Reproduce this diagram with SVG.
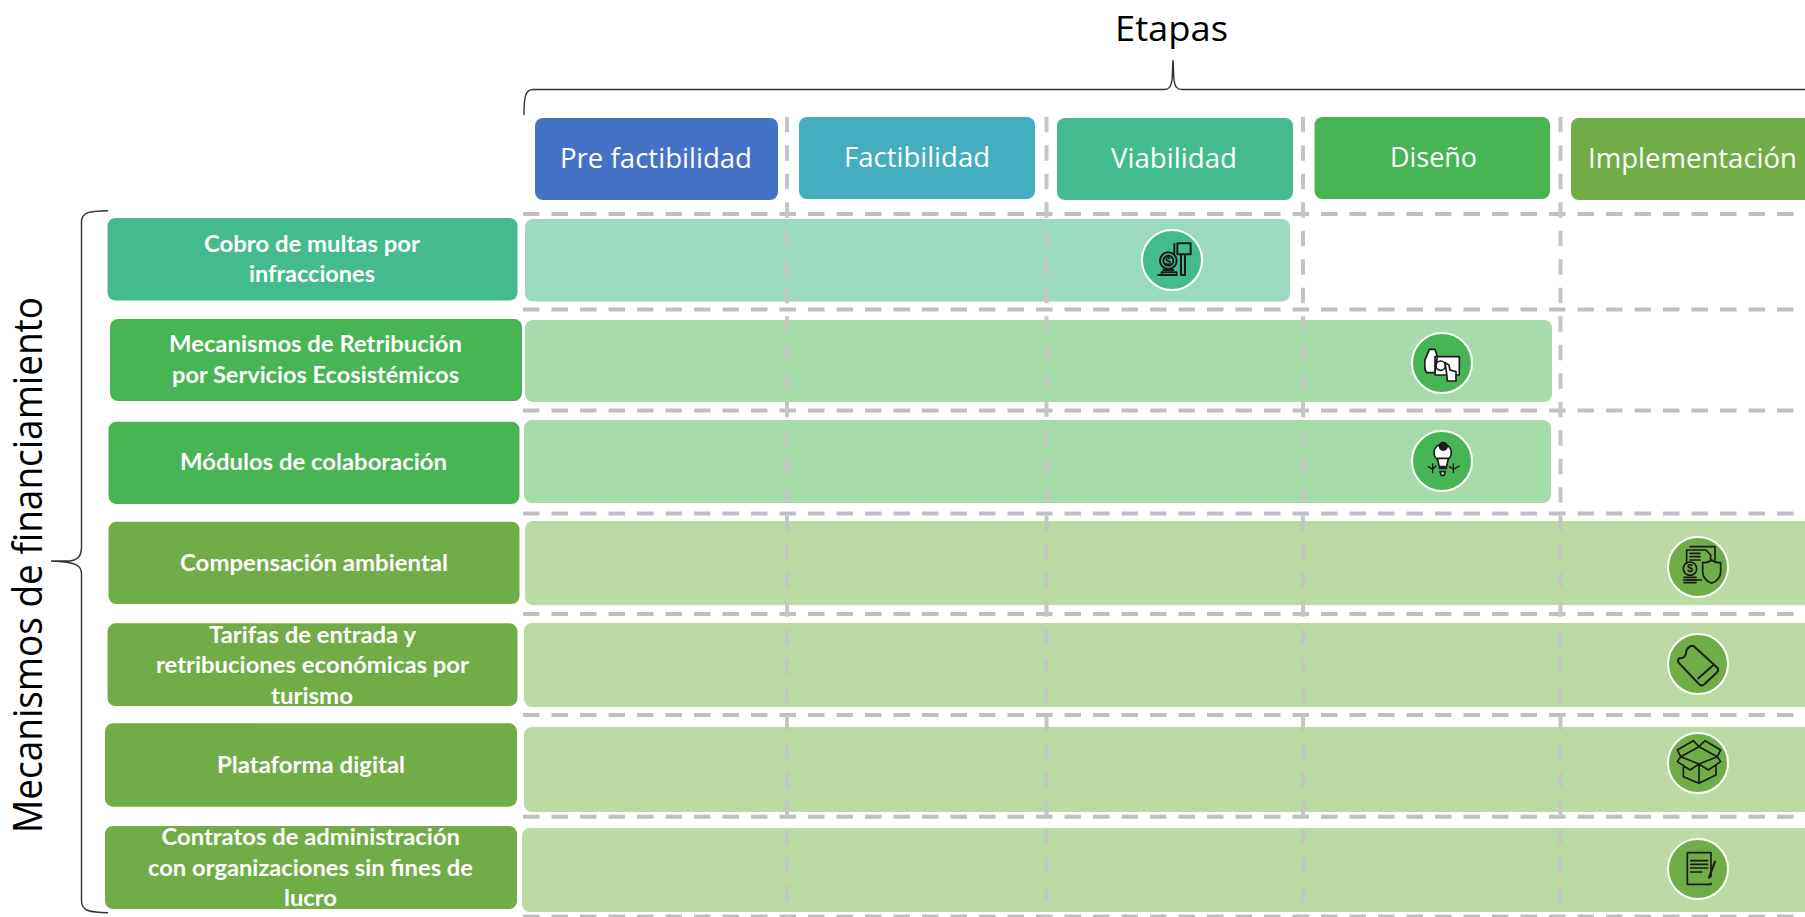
<svg xmlns="http://www.w3.org/2000/svg" width="1805" height="917" viewBox="0 0 1805 917">
<style>
.title{font-family:"Open Sans","DejaVu Sans",sans-serif;fill:#000}
.head{font-family:"Open Sans","Noto Sans",sans-serif;font-size:28px;fill:#fff}
.lab{font-family:Lato,"Liberation Sans",sans-serif;font-weight:700;font-size:22px;fill:#fff}
.hd{stroke:#BFBFBF;stroke-width:4;stroke-dasharray:16.5 12;fill:none}
.vd{stroke:#C3C6C3;stroke-width:4;stroke-dasharray:15.5 13;fill:none}
.brace{stroke:#333;stroke-width:1.4;fill:none}
.ic{fill:none;stroke:#1a1a1a;stroke-width:6;stroke-linecap:round;stroke-linejoin:round}
.icw{fill:#fff;stroke:#1a1a1a;stroke-width:5;stroke-linejoin:round;stroke-linecap:round}
.ring{stroke:#fff;stroke-width:2}
.tl{fill:#44BB8E}.gr{fill:#47B553}.ol{fill:#70AD47}
.btl{fill:#9BDAC0}.bgr{fill:#A5DCA9}.bol{fill:#BCDAA3}
.sym{font-family:"Liberation Sans",sans-serif;font-weight:700;font-size:11px;fill:#1a1a1a;text-anchor:middle}
</style>
<rect width="1805" height="917" fill="#fff"/>

<g id="bands">
<rect class="btl" x="525" y="219" width="765" height="82.5" rx="8"/>
<rect class="bgr" x="525" y="320" width="1027" height="82" rx="8"/>
<rect class="bgr" x="524" y="420" width="1027" height="83" rx="8"/>
<rect class="bol" x="525" y="521" width="1290" height="84" rx="8"/>
<rect class="bol" x="524" y="623" width="1291" height="84" rx="8"/>
<rect class="bol" x="524" y="727" width="1291" height="85" rx="8"/>
<rect class="bol" x="522" y="828" width="1293" height="84" rx="8"/>
</g>

<g id="connectors">
<path class="hd" d="M523 214H1805M523 309.500H1805M523 410.500H1805M523 513.500H1805M523 614H1805M523 715H1805M523 816.700H1805M523 916.500H1805"/>
<path class="vd" d="M787 116.700V917M1046.500 116.700V917M1303 116.700V917M1560.500 116.700V917"/>
<path class="brace" d="M524 115C524 98 525 89.500 533 89.500H1164C1169 89.500 1171 87 1172 80C1172.500 74 1172.500 66 1173 60C1173.500 66 1173.500 74 1174 80C1175 87 1177 89.500 1182 89.500H1805"/>
<path class="brace" d="M108 210.700C90 211 81.500 212 81.500 222V548C81.500 556 78 560 70 561H51C78 562 81.500 566 81.500 574V901C81.500 911 90 912.500 108 912.700"/>
</g>

<text class="title" x="1115" y="41" font-size="35" textLength="113" lengthAdjust="spacingAndGlyphs">Etapas</text>
<text class="title" transform="translate(42 833) rotate(-90)" font-size="40" textLength="536" lengthAdjust="spacingAndGlyphs">Mecanismos de financiamiento</text>

<g id="stage-prefactibilidad"><rect x="535" y="118" width="243" height="82" rx="8" fill="#4472C4"/><text class="head" x="560" y="168" textLength="192" lengthAdjust="spacingAndGlyphs">Pre factibilidad</text></g>
<g id="stage-factibilidad"><rect x="799" y="117" width="236" height="82" rx="8" fill="#44ADC0"/><text class="head" x="844" y="166.500" textLength="146" lengthAdjust="spacingAndGlyphs">Factibilidad</text></g>
<g id="stage-viabilidad"><rect x="1057" y="118" width="236" height="82" rx="8" class="tl"/><text class="head" x="1111" y="167.500" textLength="126" lengthAdjust="spacingAndGlyphs">Viabilidad</text></g>
<g id="stage-diseno"><rect x="1314.500" y="117" width="235.500" height="82" rx="8" class="gr"/><text class="head" x="1390" y="166.500" textLength="87" lengthAdjust="spacingAndGlyphs">Diseño</text></g>
<g id="stage-implementacion"><rect x="1571" y="118" width="250" height="82" rx="8" class="ol"/><text class="head" x="1588" y="168" textLength="209" lengthAdjust="spacingAndGlyphs">Implementación</text></g>

<g id="mech-multas"><rect class="tl" x="107.500" y="218" width="410" height="82.500" rx="8"/>
<text class="lab" x="204" y="251.700" textLength="216" lengthAdjust="spacingAndGlyphs">Cobro de multas por</text>
<text class="lab" x="249" y="282" textLength="126" lengthAdjust="spacingAndGlyphs">infracciones</text></g>
<g id="mech-retribucion"><rect class="gr" x="110" y="319" width="412" height="82" rx="8"/>
<text class="lab" x="169" y="352" textLength="293" lengthAdjust="spacingAndGlyphs">Mecanismos de Retribución</text>
<text class="lab" x="172" y="382.700" textLength="287" lengthAdjust="spacingAndGlyphs">por Servicios Ecosistémicos</text></g>
<g id="mech-modulos"><rect class="gr" x="108.500" y="421.700" width="411" height="82.300" rx="8"/>
<text class="lab" x="180" y="469.500" textLength="267" lengthAdjust="spacingAndGlyphs">Módulos de colaboración</text></g>
<g id="mech-compensacion"><rect class="ol" x="108.500" y="521.700" width="411" height="82.300" rx="8"/>
<text class="lab" x="180" y="570.500" textLength="268" lengthAdjust="spacingAndGlyphs">Compensación ambiental</text></g>
<g id="mech-tarifas"><rect class="ol" x="107.500" y="623.300" width="410" height="82.700" rx="8"/>
<text class="lab" x="209" y="642.700" textLength="207" lengthAdjust="spacingAndGlyphs">Tarifas de entrada y</text>
<text class="lab" x="156" y="673" textLength="313" lengthAdjust="spacingAndGlyphs">retribuciones económicas por</text>
<text class="lab" x="271" y="704" textLength="82" lengthAdjust="spacingAndGlyphs">turismo</text></g>
<g id="mech-plataforma"><rect class="ol" x="105" y="723.300" width="412" height="83.400" rx="8"/>
<text class="lab" x="217" y="772.700" textLength="188" lengthAdjust="spacingAndGlyphs">Plataforma digital</text></g>
<g id="mech-contratos"><rect class="ol" x="105" y="826" width="412" height="83" rx="8"/>
<text class="lab" x="161.500" y="845" textLength="298.500" lengthAdjust="spacingAndGlyphs">Contratos de administración</text>
<text class="lab" x="148" y="875.700" textLength="325" lengthAdjust="spacingAndGlyphs">con organizaciones sin fines de</text>
<text class="lab" x="284" y="906" textLength="53" lengthAdjust="spacingAndGlyphs">lucro</text></g>

<g id="icon-multas"><circle class="tl ring" cx="1172" cy="260" r="30"/>
<g transform="translate(1120 220) scale(.3333)"><circle class="ic" cx="145" cy="122" r="25"/><circle class="ic" cx="145" cy="122" r="15"/><path class="ic" d="M115 165H170V157H125V165M130 150H160M172 70H212V103H172ZM163 72V100M183 103V165H195V103"/></g>
<text class="sym" x="1168" y="265">$</text></g>

<g id="icon-retribucion"><circle class="gr ring" cx="1442" cy="363" r="30"/>
<g transform="translate(1400 320) scale(.3333)"><path class="icw" d="M88 88H105L112 110L105 158H80Q72 150 75 120ZM105 110H178V165H105Z"/><circle class="icw" cx="122" cy="137" r="14"/><path class="icw" d="M135 128L147 135L150 150L168 155L168 183H142L140 160Z"/></g></g>

<g id="icon-modulos"><circle class="gr ring" cx="1442" cy="461" r="30"/>
<g transform="translate(1400 320) scale(.3333)"><circle cx="128" cy="398" r="26" fill="#fff" stroke="#1a1a1a" stroke-width="5"/><path class="icw" d="M112 415L118 440H140L145 415ZM118 445H140M120 455H136L132 466H124Z"/><circle cx="130" cy="379" r="14" fill="#1a1a1a"/><path class="ic" style="stroke-width:4" d="M98 432V458M85 440L98 448M108 438L98 448M160 432V458M148 440L160 448M178 438L160 448"/></g></g>

<g id="icon-compensacion"><circle class="ol ring" cx="1698" cy="567" r="30"/>
<g transform="translate(1640 520) scale(.3333)"><path class="ic" style="stroke-width:5" d="M150 80H225V120M140 130V90H198L212 105V122M150 100H180M150 110H180M150 120H180M185 180H140"/><circle class="ic" style="stroke-width:5" cx="150" cy="146" r="20"/><path class="ic" style="stroke-width:5" d="M132 172H168M130 180H170M132 188H168M215 120Q228 130 242 127V155Q242 178 215 190Q188 178 188 155V127Q202 130 215 120Z"/></g>
<text class="sym" x="1690" y="572">$</text></g>

<g id="icon-tarifas"><circle class="ol ring" cx="1698" cy="664" r="30"/>
<g transform="translate(1660 625) scale(.3333)"><path class="ic" d="M58 100Q75 100 78 85Q80 62 100 62L172 128Q178 135 170 143L133 178Q125 185 118 178L58 115Q50 105 58 100ZM115 160L158 122"/></g></g>

<g id="icon-plataforma"><circle class="ol ring" cx="1698" cy="763" r="30"/>
<g transform="translate(1640 720) scale(.3333)"><path class="ic" style="stroke-width:5" d="M177 80L122 110L177 132L232 110ZM122 110L112 90L160 62L177 80L195 62L242 90L232 110L242 125L205 150L177 132L150 150L112 125ZM130 135V170L177 190L228 165V135M177 132V190"/></g></g>

<g id="icon-contratos"><circle class="ol ring" cx="1698" cy="869" r="30"/>
<g transform="translate(1640 720) scale(.3333)"><path class="ic" style="stroke-width:5" d="M142 398H213V470M213 490V493H142V398M152 422H203M152 433H203M152 444H203M152 456H185"/><path class="ic" d="M225 425L207 473"/></g></g>
</svg>
